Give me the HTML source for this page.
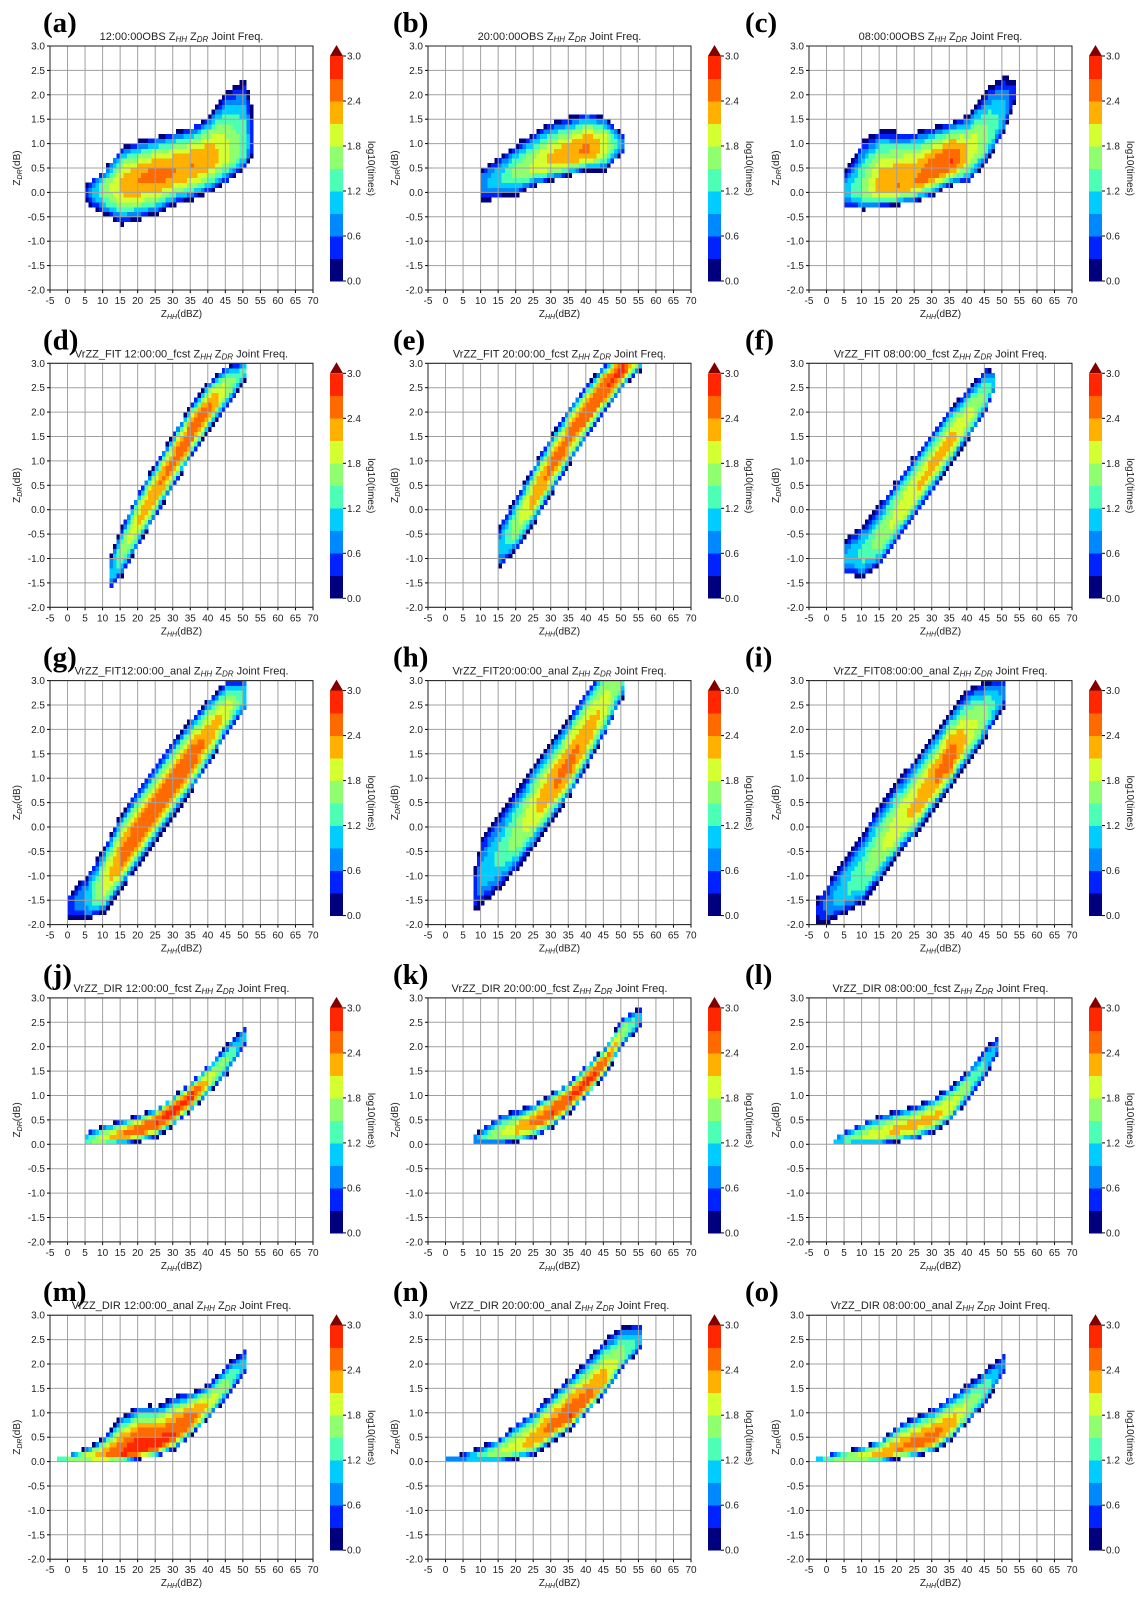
<!DOCTYPE html>
<html><head><meta charset="utf-8"><style>
html,body{margin:0;padding:0;background:#fff;}
svg{display:block;font-family:"Liberation Sans","DejaVu Sans",sans-serif;}
</style></head><body>
<svg id="fig" width="1143" height="1600" viewBox="0 0 1143 1600" xmlns="http://www.w3.org/2000/svg"></svg>
<script>
// ---- data: per-panel knots (ZHH dBZ), band center ZDR, spread below/above, peak log10 count ----
const panelIds = ['a','b','c','d','e','f','g','h','i','j','k','l','m','n','o'];
const panelTitles = ['12:00:00OBS','20:00:00OBS','08:00:00OBS','VrZZ_FIT 12:00:00_fcst','VrZZ_FIT 20:00:00_fcst','VrZZ_FIT 08:00:00_fcst','VrZZ_FIT12:00:00_anal','VrZZ_FIT20:00:00_anal','VrZZ_FIT08:00:00_anal','VrZZ_DIR 12:00:00_fcst','VrZZ_DIR 20:00:00_fcst','VrZZ_DIR 08:00:00_fcst','VrZZ_DIR 12:00:00_anal','VrZZ_DIR 20:00:00_anal','VrZZ_DIR 08:00:00_anal'];
const knotX = [
 [5,10,15,20,25,30,35,40,45,50,52],
 [10,15,20,25,30,35,40,45,50],
 [5,10,15,20,25,30,35,40,45,50,53],
 [12,15,20,25,30,35,40,45,50],
 [15,20,25,30,35,40,45,50,55],
 [5,10,15,20,25,30,35,40,45,47],
 [0,5,10,15,20,25,30,35,40,45,50],
 [8,10,15,20,25,30,35,40,45,50],
 [-3,0,5,10,15,20,25,30,35,40,45,50],
 [5,10,15,20,25,30,35,40,45,50],
 [8,10,15,20,25,30,35,40,45,50,55],
 [2,5,10,15,20,25,30,35,40,45,48],
 [-3,0,5,10,15,20,25,30,35,40,45,50],
 [0,5,10,15,20,25,30,35,40,45,50,55],
 [-3,0,5,10,15,20,25,30,35,40,45,50]
];
const centerZdr = [
 [0,0.05,0.15,0.25,0.35,0.45,0.55,0.7,0.8,0.9,1.0],
 [0.2,0.3,0.4,0.55,0.65,0.75,0.85,0.95,1.0],
 [0,0.05,0.1,0.15,0.25,0.45,0.65,0.8,1.1,1.6,2.0],
 [-1.3,-0.9,-0.2,0.4,1.0,1.6,2.1,2.5,2.85],
 [-0.8,-0.3,0.3,0.9,1.5,2.0,2.5,2.9,3.1],
 [-1.0,-0.9,-0.6,-0.1,0.4,0.9,1.4,1.9,2.4,2.6],
 [-1.6,-1.5,-1.2,-0.6,-0.1,0.4,0.9,1.4,1.9,2.4,2.7],
 [-1.3,-1.0,-0.6,-0.2,0.3,0.8,1.3,1.9,2.5,3.0],
 [-1.7,-1.6,-1.3,-1.0,-0.5,0.0,0.4,0.9,1.4,1.9,2.3,2.7],
 [0.05,0.1,0.2,0.3,0.45,0.7,1.0,1.35,1.75,2.2],
 [0.1,0.12,0.2,0.3,0.45,0.65,0.95,1.3,1.7,2.3,2.6],
 [0.05,0.08,0.15,0.2,0.3,0.4,0.55,0.8,1.2,1.7,2.0],
 [0.05,0.05,0.08,0.1,0.15,0.25,0.35,0.55,0.85,1.2,1.6,2.0],
 [0.05,0.08,0.12,0.18,0.3,0.45,0.7,0.95,1.3,1.7,2.2,2.5],
 [0.05,0.05,0.08,0.1,0.15,0.25,0.35,0.5,0.75,1.1,1.5,2.0]
];
const spreadLo = [
 [0.2,0.5,0.8,0.8,0.8,0.7,0.7,0.7,0.6,0.4,0.3],
 [0.4,0.4,0.45,0.4,0.4,0.4,0.4,0.5,0.2],
 [0.3,0.4,0.4,0.4,0.45,0.5,0.5,0.6,0.5,0.4,0.2],
 [0.3,0.45,0.5,0.5,0.5,0.5,0.45,0.4,0.2],
 [0.4,0.5,0.55,0.55,0.55,0.5,0.5,0.4,0.25],
 [0.3,0.5,0.5,0.5,0.5,0.5,0.45,0.45,0.4,0.25],
 [0.25,0.4,0.55,0.65,0.65,0.65,0.65,0.65,0.6,0.5,0.35],
 [0.4,0.6,0.65,0.65,0.65,0.65,0.65,0.65,0.6,0.35],
 [0.25,0.35,0.45,0.55,0.55,0.55,0.55,0.55,0.55,0.55,0.45,0.25],
 [0.05,0.1,0.2,0.25,0.3,0.3,0.3,0.3,0.3,0.2],
 [0.1,0.1,0.2,0.25,0.3,0.3,0.3,0.3,0.3,0.3,0.2],
 [0.05,0.08,0.15,0.2,0.25,0.3,0.3,0.3,0.3,0.3,0.2],
 [0.05,0.05,0.08,0.1,0.15,0.2,0.25,0.3,0.3,0.3,0.3,0.2],
 [0.05,0.08,0.12,0.18,0.25,0.3,0.3,0.3,0.3,0.3,0.3,0.2],
 [0.05,0.05,0.08,0.1,0.15,0.2,0.25,0.3,0.3,0.3,0.3,0.2]
];
const spreadHi = [
 [0.2,0.4,0.8,0.8,0.8,0.8,0.8,0.9,1.3,1.4,0.8],
 [0.3,0.4,0.6,0.7,0.8,0.8,0.8,0.6,0.2],
 [0.5,1.0,1.2,1.1,1.0,0.9,0.8,0.8,1.0,0.8,0.3],
 [0.4,0.55,0.6,0.6,0.6,0.6,0.55,0.45,0.2],
 [0.5,0.6,0.65,0.65,0.65,0.6,0.5,0.4,0.25],
 [0.4,0.6,0.75,0.75,0.75,0.7,0.7,0.6,0.5,0.25],
 [0.25,0.5,0.8,0.9,0.9,0.9,0.9,0.85,0.75,0.6,0.35],
 [0.5,0.8,0.9,1.0,1.0,1.0,1.0,0.95,0.85,0.35],
 [0.25,0.45,0.7,0.9,1.0,1.0,1.0,1.0,1.0,0.95,0.7,0.35],
 [0.2,0.3,0.3,0.3,0.3,0.3,0.3,0.3,0.3,0.2],
 [0.1,0.2,0.4,0.4,0.4,0.4,0.35,0.35,0.3,0.3,0.2],
 [0.1,0.2,0.3,0.4,0.4,0.4,0.4,0.4,0.35,0.3,0.2],
 [0.05,0.1,0.2,0.4,0.8,0.9,0.8,0.8,0.6,0.4,0.4,0.3],
 [0.05,0.1,0.2,0.3,0.5,0.6,0.7,0.8,0.8,0.8,0.6,0.3],
 [0.05,0.1,0.15,0.2,0.3,0.5,0.6,0.6,0.6,0.5,0.4,0.2]
];
const peakLog = [
 [0.6,1.6,2.2,2.4,2.5,2.4,2.4,2.3,1.9,1.4,0.5],
 [0.8,1.2,1.6,1.9,2.2,2.3,2.5,2.0,0.8],
 [1.0,1.6,2.3,2.4,2.4,2.6,2.7,2.1,1.6,1.0,0.4],
 [1.0,1.6,2.2,2.4,2.5,2.6,2.5,1.8,1.2],
 [1.0,1.8,2.3,2.5,2.5,2.6,2.7,2.8,1.5],
 [1.0,1.3,1.7,1.9,2.1,2.2,2.2,1.9,1.5,1.0],
 [0.5,1.0,2.0,2.5,2.6,2.6,2.6,2.6,2.3,2.0,1.2],
 [0.5,1.0,1.3,1.7,2.1,2.4,2.5,2.3,2.0,1.4],
 [0.4,0.8,1.2,1.5,1.8,2.0,2.2,2.4,2.6,2.0,1.6,0.8],
 [1.4,2.0,2.4,2.6,2.7,2.8,2.8,2.0,1.5,1.0],
 [1.0,1.4,1.8,2.2,2.5,2.7,2.7,2.8,2.6,1.8,1.0],
 [1.0,1.4,1.8,2.0,2.2,2.2,2.2,2.0,1.6,1.2,0.8],
 [1.2,1.6,2.0,2.4,2.7,2.9,2.8,2.7,2.6,2.0,1.6,1.0],
 [0.8,1.0,1.4,1.8,2.0,2.3,2.5,2.7,2.5,2.2,1.6,1.0],
 [1.0,1.4,1.8,2.0,2.2,2.4,2.5,2.5,2.3,1.8,1.4,0.8]
];
const zdrFloor = [-2,-2,-2,-2,-2,-2,-2,-2,-2,0,0,0,0,0,0];
const xTicks = [-5,0,5,10,15,20,25,30,35,40,45,50,55,60,65,70];
const yTicks = [-2.0,-1.5,-1.0,-0.5,0.0,0.5,1.0,1.5,2.0,2.5,3.0];
const cbTicks = [0.0,0.6,1.2,1.8,2.4,3.0];
const levelColors = ['#00007f','#0022ff','#0088ff','#00ccff','#4dffb4','#8fff70','#d4ff30','#ffb000','#ff6a00','#ff2600'];

// ---- layout ----
const NS='http://www.w3.org/2000/svg';
const svg=document.getElementById('fig');
const colLeft=[50,428,809], rowTop0=46, rowStep=317.3, PW=263, PH=244;
const labelX=[43,393,745];
function mk(tag,attrs,parent){const e=document.createElementNS(NS,tag);for(const k in attrs)e.setAttribute(k,attrs[k]);(parent||svg).appendChild(e);return e;}
function interp(xs,ys,x){if(x<=xs[0])return ys[0];for(let i=1;i<xs.length;i++){if(x<=xs[i]){const t=(x-xs[i-1])/(xs[i]-xs[i-1]);return ys[i-1]+t*(ys[i]-ys[i-1]);}}return ys[ys.length-1];}
function addTitle(g,x,y,prefix){
  const t=mk('text',{x:x,y:y,'font-size':11,'text-anchor':'middle',fill:'#222'},g);
  
  
  t.appendChild(document.createTextNode(prefix+' Z'));
  const s1=mk('tspan',{'font-size':8,'font-style':'italic',dy:2},t);s1.textContent='HH';
  const s2=mk('tspan',{dy:-2},t);s2.textContent=' Z';
  const s3=mk('tspan',{'font-size':8,'font-style':'italic',dy:2},t);s3.textContent='DR';
  const s4=mk('tspan',{dy:-2},t);s4.textContent=' Joint Freq.';
}

panelIds.forEach((id,p)=>{
  const col=p%3,row=Math.floor(p/3);
  const L=colLeft[col],T=rowTop0+row*rowStep,R=L+PW,B=T+PH;
  const sx=v=>L+(v+5)/75*PW, sy=v=>B-(v+2)/5*PH;
  const g=mk('g',{});
  
  
  const lab=mk('text',{x:labelX[col],y:T-14,'font-size':29,'font-weight':'bold','font-family':'"Liberation Serif",serif',fill:'#000'},g);
  
  
  lab.textContent='('+id+')';
  addTitle(g,(L+R)/2,T-6,panelTitles[p]);
  // heatmap cells
  const hg=mk('g',{'shape-rendering':'crispEdges'},g);
  
  
  const xs=knotX[p];
  for(let x=Math.ceil(xs[0]);x<=xs[xs.length-1];x++){
    const c=interp(xs,centerZdr[p],x),lo=interp(xs,spreadLo[p],x),hi=interp(xs,spreadHi[p],x),pk=interp(xs,peakLog[p],x);
    for(let k=0;k<50;k++){
      const z=-2+k*0.1, zc=z+0.05;
      if(z<zdrFloor[p]-1e-9||z>=3-1e-9)continue;
      let t=zc>=c?(zc-c)/hi:(c-zc)/lo;
      if(t>1)continue;
      const lv=pk*(1-Math.pow(t,2.2));
      const li=Math.max(0,Math.min(9,Math.floor(lv/0.3)));
      const r=mk('rect',{x:sx(x).toFixed(2),y:sy(z+0.1).toFixed(2),width:(PW/75+0.3).toFixed(2),height:(PH/50+0.3).toFixed(2),fill:levelColors[li]},hg);
      
      
    }
  }
  // grid
  xTicks.forEach(v=>{const l=mk('line',{x1:sx(v),x2:sx(v),y1:T,y2:B,stroke:'#a0a0a0','stroke-width':1},g);
    mk('line',{x1:sx(v),x2:sx(v),y1:B,y2:B+3,stroke:'#000'},g);
    const tx=mk('text',{x:sx(v),y:B+14,'font-size':10,'text-anchor':'middle',fill:'#222'},g);tx.textContent=v;});
  yTicks.forEach(v=>{const l=mk('line',{x1:L,x2:R,y1:sy(v),y2:sy(v),stroke:'#a0a0a0','stroke-width':1},g);
    mk('line',{x1:L-3,x2:L,y1:sy(v),y2:sy(v),stroke:'#000'},g);
    const tx=mk('text',{x:L-5,y:sy(v)+3.5,'font-size':10,'text-anchor':'end',fill:'#222'},g);tx.textContent=v.toFixed(1);});
  const fr=mk('rect',{x:L,y:T,width:PW,height:PH,fill:'none',stroke:'#222','stroke-width':1},g);
  
  // axis titles
  const xt=mk('text',{x:(L+R)/2,y:B+27,'font-size':10,'text-anchor':'middle',fill:'#222'},g);
  
  xt.appendChild(document.createTextNode('Z'));const xs1=mk('tspan',{'font-size':7,'font-style':'italic',dy:2},xt);xs1.textContent='HH';const xs2=mk('tspan',{dy:-2},xt);xs2.textContent='(dBZ)';
  const yt=mk('text',{x:0,y:0,'font-size':10,'text-anchor':'middle',fill:'#222',transform:`translate(${L-30},${(T+B)/2}) rotate(-90)`},g);
  
  yt.appendChild(document.createTextNode('Z'));const ys1=mk('tspan',{'font-size':7,'font-style':'italic',dy:2},yt);ys1.textContent='DR';const ys2=mk('tspan',{dy:-2},yt);ys2.textContent='(dB)';
  // colorbar
  const cbL=R+17,cbW=13,cbT=T+10,cbB=B-9;
  const cg=mk('g',{'shape-rendering':'crispEdges'},g);
  
  levelColors.forEach((c,i)=>{const h=(cbB-cbT)/10;mk('rect',{x:cbL,y:cbB-(i+1)*h,width:cbW,height:h+0.4,fill:c},cg);});
  const tri=mk('polygon',{points:`${cbL},${cbT} ${cbL+cbW},${cbT} ${cbL+cbW/2},${cbT-11}`,fill:'#800000'},g);
  
  cbTicks.forEach(v=>{const y=cbB-v/3*(cbB-cbT);mk('line',{x1:cbL+cbW,x2:cbL+cbW+3,y1:y,y2:y,stroke:'#000'},g);
    const tx=mk('text',{x:cbL+cbW+4,y:y+3.5,'font-size':10,fill:'#222'},g);tx.textContent=v.toFixed(1);});
  const ct=mk('text',{x:0,y:0,'font-size':10,'text-anchor':'middle',fill:'#222',transform:`translate(${cbL+cbW+25},${(cbT+cbB)/2}) rotate(90)`},g);
  ct.textContent='log10(times)';
});
</script>
</body></html>
